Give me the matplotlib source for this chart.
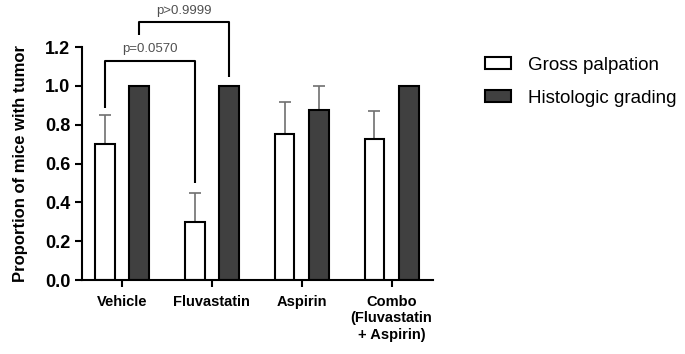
import matplotlib
matplotlib.use("Agg")
import matplotlib.pyplot as plt
import numpy as np

plt.rcParams['font.family'] = ['Liberation Sans', 'DejaVu Sans']

categories = ["Vehicle", "Fluvastatin", "Aspirin", "Combo\n(Fluvastatin\n+ Aspirin)"]
gross = [0.70, 0.30, 0.75, 0.725]
gross_err = [0.15, 0.15, 0.165, 0.145]
histo = [1.0, 1.0, 0.875, 1.0]
histo_err = [0.0, 0.0, 0.125, 0.0]

fig = plt.figure(figsize=(6.85, 3.54), dpi=100)
ax = fig.add_axes([0.12, 0.209, 0.512, 0.658])

x = np.arange(len(categories))
w = 0.22
off = 0.19
ax.bar(x - off, gross, w, color="white", edgecolor="black", linewidth=1.5,
       label="Gross palpation", zorder=2)
ax.bar(x + off, histo, w, color="#404040", edgecolor="black", linewidth=1.5,
       label="Histologic grading", zorder=2)
ax.errorbar(x - off, gross, yerr=[np.zeros(4), gross_err], fmt="none",
            ecolor="#707070", elinewidth=1.2, capsize=4, capthick=1.2, zorder=1)
ax.errorbar(x + off, histo, yerr=[np.zeros(4), histo_err], fmt="none",
            ecolor="#707070", elinewidth=1.2, capsize=4, capthick=1.2, zorder=1)

# significance brackets
def bracket(x1, x2, y, y1, y2, txt, ty):
    ax.plot([x1, x1, x2, x2], [y1, y, y, y2], color="black", lw=1.5,
            clip_on=False, solid_capstyle="butt")
    ax.text((x1 + x2) / 2, ty, txt, ha="center", va="bottom", fontsize=9.5,
            color="#505050")

bracket(0 - off, 1 - off, 1.128, 0.886, 0.50, "p=0.0570", 1.16)
bracket(0 + off, 1 + off, 1.33, 1.26, 1.045, "p>0.9999", 1.355)

ax.set_xlim(-0.44, 3.46)
ax.set_ylim(0, 1.2)
ax.set_yticks([0, 0.2, 0.4, 0.6, 0.8, 1.0, 1.2])
ax.set_yticklabels(["0.0", "0.2", "0.4", "0.6", "0.8", "1.0", "1.2"],
                   fontsize=13, fontweight="bold")
ax.set_xticks(x)
ax.set_xticklabels(categories, fontsize=10.5, fontweight="bold")
ax.set_ylabel("Proportion of mice with tumor", fontsize=12, fontweight="bold",
              labelpad=12)

for s in ["top", "right"]:
    ax.spines[s].set_visible(False)
for s in ["left", "bottom"]:
    ax.spines[s].set_linewidth(1.5)
ax.tick_params(width=1.5, length=5)
ax.tick_params(axis="x", pad=6)

ax.legend(loc="upper left", bbox_to_anchor=(1.1, 1.03), frameon=False,
          fontsize=13.5, handlelength=1.4, handleheight=0.6, labelspacing=0.85,
          handletextpad=0.9)

fig.savefig("out.png", dpi=100)
